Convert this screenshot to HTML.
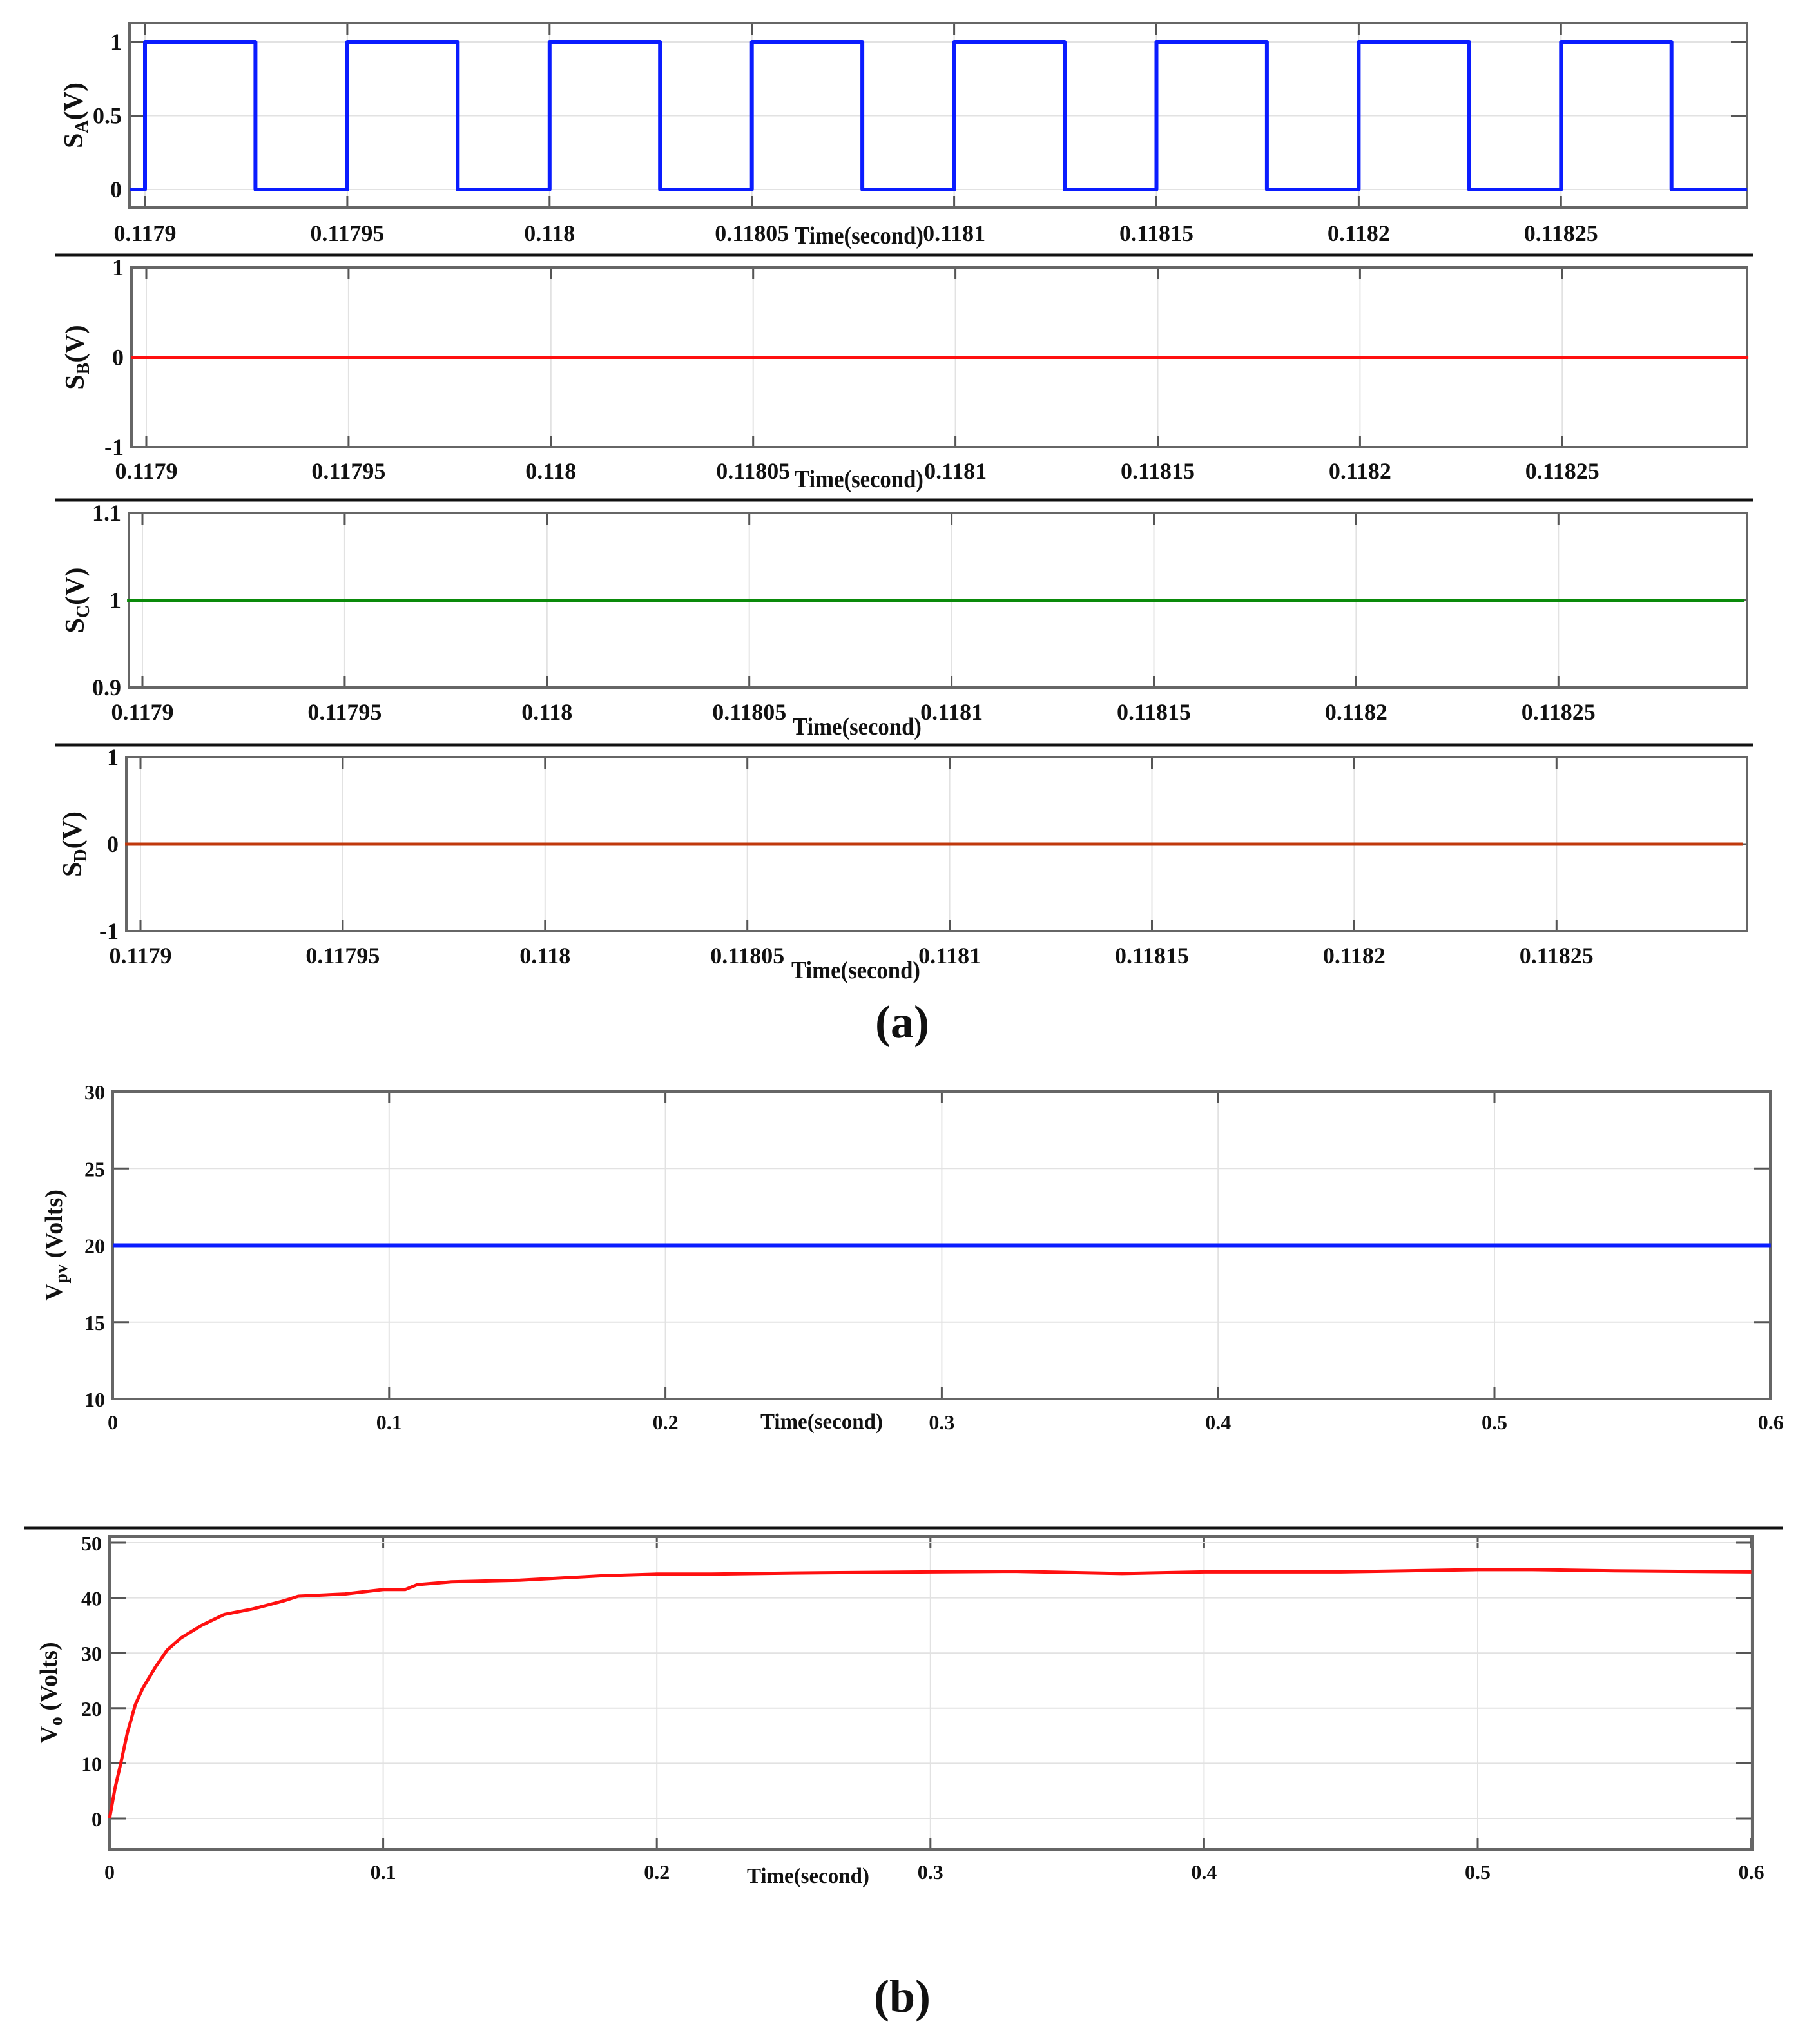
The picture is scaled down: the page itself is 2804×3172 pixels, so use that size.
<!DOCTYPE html>
<html><head><meta charset="utf-8"><style>
html,body{margin:0;padding:0;background:#fff;}
svg{display:block;}
text{font-family:"Liberation Serif",serif;font-weight:bold;fill:#111;}
</style></head><body>
<svg id="chart" width="2804" height="3172" viewBox="0 0 2804 3172" xmlns="http://www.w3.org/2000/svg"></svg>
<script>
// ---- data ----
const switchTicks = [0.1179, 0.11795, 0.118, 0.11805, 0.1181, 0.11815, 0.1182, 0.11825];
const switchTickLabels = ["0.1179","0.11795","0.118","0.11805","0.1181","0.11815","0.1182","0.11825"];
const saRise = [0.1179, 0.11795, 0.118, 0.11805, 0.1181, 0.11815, 0.1182, 0.11825];
const saFall = [0.1179273, 0.1179773, 0.1180273, 0.1180773, 0.1181273, 0.1181773, 0.1182273, 0.1182773];
const sbValue = 0;
const scValue = 1;
const sdValue = 0;
const vpvValue = 20;
const timeTicks = [0, 0.1, 0.2, 0.3, 0.4, 0.5, 0.6];
const timeTickLabels = ["0","0.1","0.2","0.3","0.4","0.5","0.6"];
const voTimes = [0, 0.002, 0.0041, 0.0065, 0.0094, 0.012, 0.0167, 0.021, 0.026, 0.0336, 0.042, 0.0525, 0.064, 0.069, 0.086, 0.1, 0.108, 0.1125, 0.125, 0.15, 0.18, 0.2, 0.22, 0.25, 0.3, 0.33, 0.37, 0.4, 0.45, 0.5, 0.52, 0.55, 0.6];
const voValues = [0, 5.5, 10, 15.5, 20.6, 23.5, 27.4, 30.5, 32.7, 35, 37, 38, 39.5, 40.3, 40.7, 41.5, 41.5, 42.4, 42.9, 43.2, 44, 44.3, 44.3, 44.5, 44.7, 44.8, 44.4, 44.7, 44.7, 45.1, 45.1, 44.9, 44.7];

const NS = "http://www.w3.org/2000/svg";
const svg = document.getElementById("chart");
function mk(tag, attrs, parent){const e=document.createElementNS(NS,tag);for(const k in attrs)e.setAttribute(k,attrs[k]);(parent||svg).appendChild(e);return e;}

function panel(o){
  const g = mk("g",{});
  
  
  const xs = t => o.x0px + (t - o.t0) / o.tstep * o.pxstep;
  const ys = v => o.yb + (v - o.vmin) / (o.vmax - o.vmin) * (o.yt - o.yb);
  o.xticks.forEach((t,i)=>{
    const x = xs(t);
    const gl = mk("line",{x1:x,x2:x,y1:o.top,y2:o.bottom,stroke:"#e2e2e2","stroke-width":2},g);
    
    
    mk("line",{x1:x,x2:x,y1:o.top,y2:o.top+18,stroke:"#555","stroke-width":3},g);
    mk("line",{x1:x,x2:x,y1:o.bottom-18,y2:o.bottom,stroke:"#555","stroke-width":3},g);
    const tx = mk("text",{x:x,y:o.xlabY,"text-anchor":"middle","font-size":o.fs},g);
    tx.textContent = o.xlabels[i];
    
    
  });
  o.yticks.forEach((v,i)=>{
    const y = ys(v);
    if (y > o.top+2 && y < o.bottom-2) {
      const gl = mk("line",{x1:o.left,x2:o.right,y1:y,y2:y,stroke:"#e2e2e2","stroke-width":2},g);
      
      
    }
    mk("line",{x1:o.left,x2:o.left+25,y1:y,y2:y,stroke:"#555","stroke-width":3},g);
    mk("line",{x1:o.right-25,x2:o.right,y1:y,y2:y,stroke:"#555","stroke-width":3},g);
    const tx = mk("text",{x:o.left-12,y:y+12,"text-anchor":"end","font-size":o.fs},g);
    tx.textContent = o.ylabels[i];
    
    
  });
  const box = mk("rect",{x:o.left,y:o.top,width:o.right-o.left,height:o.bottom-o.top,fill:"none",stroke:"#666","stroke-width":4},g);
  
  
  const pts = o.series(xs, ys);
  const pl = mk("polyline",{points:pts.map(p=>p[0].toFixed(1)+","+p[1].toFixed(1)).join(" "),fill:"none",stroke:o.color,"stroke-width":o.sw,"stroke-linejoin":"round"},g);
  
  
  const yl = mk("text",{x:0,y:0,"text-anchor":"middle","font-size":o.fs+6,transform:`translate(${o.ylabX},${(o.top+o.bottom)/2}) rotate(-90)`},g);
  yl.innerHTML = o.ylabel;
  
  
  const xl = mk("text",{x:o.xtitleX,y:o.xtitleY,"text-anchor":"middle","font-size":o.fs+2,textLength:o.titleLen,lengthAdjust:"spacingAndGlyphs"},g);
  xl.textContent = "Time(second)";
  
  
  if (o.sepY) {
    const s = mk("line",{x1:o.sepX1,x2:o.sepX2,y1:o.sepY,y2:o.sepY,stroke:"#111","stroke-width":5});
    
    
  }
}

const common = {t0:0.1179,tstep:0.00005,pxstep:313.9,xticks:switchTicks,xlabels:switchTickLabels,fs:36,right:2711,titleLen:200};

panel(Object.assign({},common,{name:"sa-panel",left:201,top:36,bottom:322,x0px:225,vmin:0,vmax:1,yb:294,yt:65,
  yticks:[0,0.5,1],ylabels:["0","0.5","1"],xlabY:374,color:"#0a1cff",sw:6,ylabX:128,
  ylabel:'S<tspan font-size="28" dy="8">A</tspan><tspan dy="-8">(V)</tspan>',xtitleX:1333,xtitleY:378,sepY:396,sepX1:85,sepX2:2720,
  series:(xs,ys)=>{const p=[[xs(0.1179-0.0000038),ys(0)]];const tEnd=0.118296;
    saRise.forEach((r,i)=>{p.push([xs(r),ys(0)],[xs(r),ys(1)],[xs(Math.min(saFall[i],tEnd)),ys(1)]);if(saFall[i]<tEnd)p.push([xs(saFall[i]),ys(0)]);});
    p.push([xs(tEnd),ys(0)]);return p;}}));

panel(Object.assign({},common,{name:"sb-panel",left:204,top:415,bottom:694,x0px:227,vmin:-1,vmax:1,yb:694,yt:415,
  yticks:[-1,0,1],ylabels:["-1","0","1"],xlabY:743,color:"#ff1010",sw:5,ylabX:130,
  ylabel:'S<tspan font-size="28" dy="8">B</tspan><tspan dy="-8">(V)</tspan>',xtitleX:1333,xtitleY:756,sepY:776,sepX1:85,sepX2:2720,
  series:(xs,ys)=>[[xs(0.1179-0.0000038),ys(sbValue)],[xs(0.118296),ys(sbValue)]]}));

panel(Object.assign({},common,{name:"sc-panel",left:200,top:796,bottom:1067,x0px:221,vmin:0.9,vmax:1.1,yb:1067,yt:796,
  yticks:[0.9,1,1.1],ylabels:["0.9","1","1.1"],xlabY:1117,color:"#0a8a0a",sw:5,ylabX:130,
  ylabel:'S<tspan font-size="28" dy="8">C</tspan><tspan dy="-8">(V)</tspan>',xtitleX:1330,xtitleY:1140,sepY:1156,sepX1:85,sepX2:2720,
  series:(xs,ys)=>[[xs(0.1179-0.0000038),ys(scValue)],[xs(0.118296),ys(scValue)]]}));

panel(Object.assign({},common,{name:"sd-panel",left:196,top:1175,bottom:1445,x0px:218,vmin:-1,vmax:1,yb:1445,yt:1175,
  yticks:[-1,0,1],ylabels:["-1","0","1"],xlabY:1495,color:"#c0380c",sw:5,ylabX:126,
  ylabel:'S<tspan font-size="28" dy="8">D</tspan><tspan dy="-8">(V)</tspan>',xtitleX:1328,xtitleY:1518,
  series:(xs,ys)=>[[xs(0.1179-0.0000038),ys(sdValue)],[xs(0.118296),ys(sdValue)]]}));

panel({name:"vpv-panel",left:175,right:2747,top:1694,bottom:2171,x0px:175,t0:0,tstep:0.1,pxstep:428.8,
  xticks:timeTicks,xlabels:timeTickLabels,fs:32,vmin:10,vmax:30,yb:2171,yt:1694,titleLen:190,
  yticks:[10,15,20,25,30],ylabels:["10","15","20","25","30"],xlabY:2218,color:"#0a1cff",sw:6,ylabX:96,
  ylabel:'V<tspan font-size="28" dy="8">pv</tspan><tspan dy="-8">  (Volts)</tspan>',xtitleX:1275,xtitleY:2217,
  series:(xs,ys)=>[[xs(0),ys(vpvValue)],[xs(0.6),ys(vpvValue)]]});

panel({name:"vo-panel",left:170,right:2719,top:2384,bottom:2870,x0px:170,t0:0,tstep:0.1,pxstep:424.6,
  xticks:timeTicks,xlabels:timeTickLabels,fs:32,vmin:0,vmax:50,yb:2822,yt:2394,titleLen:190,
  yticks:[0,10,20,30,40,50],ylabels:["0","10","20","30","40","50"],xlabY:2916,color:"#ff1010",sw:5,ylabX:88,
  ylabel:'V<tspan font-size="28" dy="8">o</tspan><tspan dy="-8"> (Volts)</tspan>',xtitleX:1254,xtitleY:2922,
  sepY:2371,sepX1:37,sepX2:2766,
  series:(xs,ys)=>voTimes.map((t,i)=>[xs(t),ys(voValues[i])])});

const ca = mk("text",{x:1400,y:1610,"text-anchor":"middle","font-size":72});
ca.textContent = '(a)';


const cb = mk("text",{x:1400,y:3122,"text-anchor":"middle","font-size":72});
cb.textContent = '(b)';


</script>
</body></html>
